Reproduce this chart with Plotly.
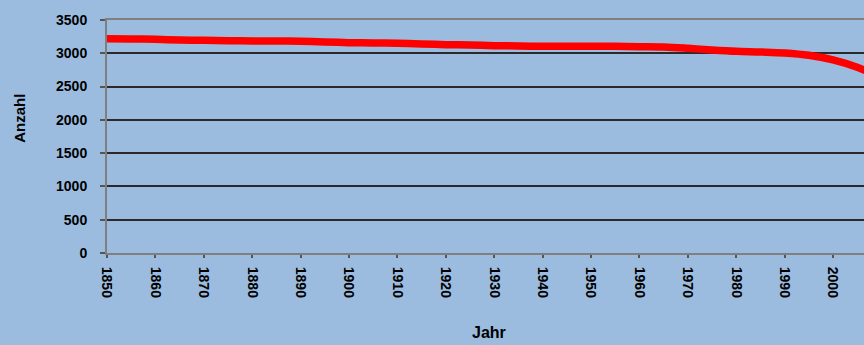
import plotly.graph_objects as go

# Anzahl pro Jahr (Stützwerte alle 5 Jahre)
years = [1850, 1855, 1860, 1865, 1870, 1875, 1880, 1885, 1890, 1895,
         1900, 1905, 1910, 1915, 1920, 1925, 1930, 1935, 1940, 1945,
         1950, 1955, 1960, 1965, 1970, 1975, 1980, 1985, 1990, 1995,
         2000, 2005, 2007]
anzahl = [3220, 3215, 3210, 3200, 3195, 3190, 3185, 3185, 3180, 3170,
          3160, 3155, 3150, 3140, 3130, 3125, 3115, 3110, 3105, 3105,
          3105, 3105, 3100, 3095, 3075, 3050, 3030, 3020, 3005, 2970,
          2900, 2790, 2730]

x_ticks = list(range(1850, 2001, 10))
y_ticks = list(range(0, 3501, 500))

bg = "#9BBCDF"
font_bold = dict(family="Liberation Sans", size=14, color="#000000", weight="bold")

fig = go.Figure()
fig.add_trace(go.Scatter(
    x=years, y=anzahl, mode="lines",
    line=dict(color="#FF0000", width=7.5, shape="spline"),
    showlegend=False, hoverinfo="skip",
))

fig.update_layout(
    width=864, height=345,
    margin=dict(l=107, r=0, t=20, b=92),
    paper_bgcolor=bg, plot_bgcolor=bg,
    font=font_bold,
    annotations=[
        dict(text="Anzahl", xref="paper", yref="paper", x=-0.115, y=0.58,
             xanchor="center", yanchor="middle", textangle=-90, showarrow=False,
             font=dict(family="Liberation Sans", size=15, color="#000", weight="bold")),
        dict(text="Jahr", xref="paper", yref="paper", x=0.505, y=-0.295,
             xanchor="center", yanchor="top", showarrow=False,
             font=dict(family="Liberation Sans", size=16, color="#000", weight="bold")),
    ],
)

fig.update_xaxes(
    range=[1850, 2006.4], tickmode="array", tickvals=x_ticks,
    ticktext=[str(v) for v in x_ticks], tickangle=90,
    showgrid=False, zeroline=False,
    showline=True, linecolor="#7F7F7F", linewidth=2, mirror=True,
    ticks="outside", ticklen=3, tickwidth=2, tickcolor="#555555",
    ticklabelstandoff=6, tickfont=font_bold,
)
fig.update_yaxes(
    range=[0, 3500], tickmode="array", tickvals=y_ticks,
    showgrid=True, gridcolor="#2A2A2A", gridwidth=2, zeroline=False,
    showline=True, linecolor="#7F7F7F", linewidth=2,
    ticks="outside", ticklen=5, tickwidth=2, tickcolor="#555555",
    ticklabelstandoff=10, tickfont=font_bold,
)

fig.write_html("out.html")
